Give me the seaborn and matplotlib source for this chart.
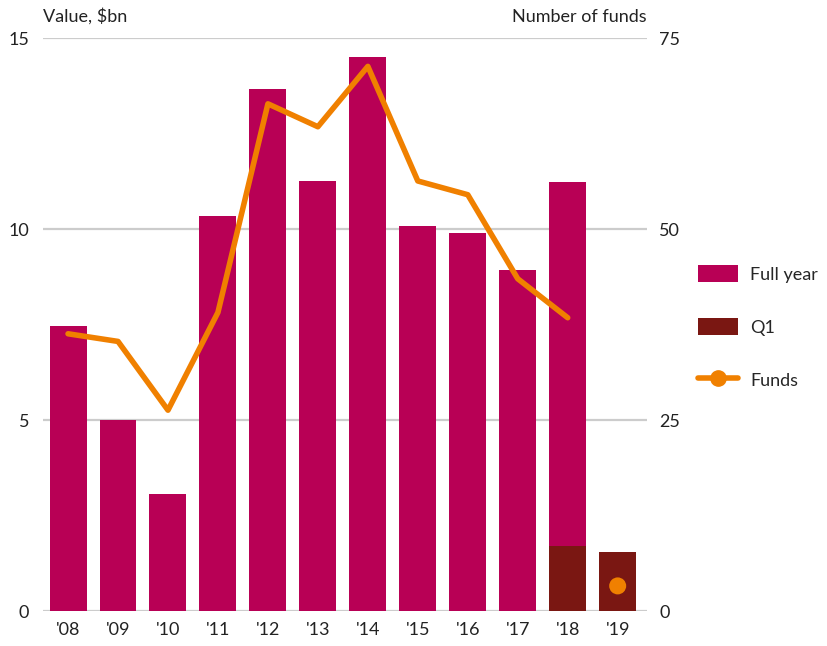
import seaborn as sns
import matplotlib.pyplot as plt
import numpy as np
import pandas as pd
from matplotlib.patches import Patch
from matplotlib.lines import Line2D

years = ["'08", "'09", "'10", "'11", "'12", "'13", "'14", "'15", "'16", "'17", "'18", "'19"]
full_year = [7.46, 5.0, 3.06, 10.34, 13.66, 11.26, 14.5, 10.08, 9.9, 8.93, 11.23, np.nan]
q1 = [np.nan] * 10 + [1.7, 1.54]
funds = [36.3, 35.3, 26.3, 39.1, 66.4, 63.4, 71.3, 56.3, 54.5, 43.5, 38.4, np.nan]
funds_q1 = [np.nan] * 11 + [3.3]

c_full = '#b80055'
c_q1 = '#7a1712'
c_line = '#f08000'
c_grid = '#cccccc'
c_text = '#222222'

sns.set_theme(style='white')
plt.rcParams['font.family'] = ['Lato', 'DejaVu Sans']

df = pd.DataFrame({'year': years, 'full': full_year, 'q1': q1})

fig = plt.figure(figsize=(8.28, 6.46), dpi=100)
ax = fig.add_axes([0.052, 0.054, 0.729, 0.887])

sns.barplot(data=df, x='year', y='full', order=years, color=c_full, width=0.74,
            saturation=1, linewidth=0, ax=ax)
sns.barplot(data=df, x='year', y='q1', order=years, color=c_q1, width=0.74,
            saturation=1, linewidth=0, ax=ax)

ax.set_ylim(0, 15)
ax.set_xlim(-0.5, 11.58)
ax.set_yticks([0, 5, 10, 15])
ax.yaxis.grid(True, color=c_grid, linewidth=1.6)
ax.set_axisbelow(True)
for s in ax.spines.values():
    s.set_visible(False)
ax.set_xlabel('')
ax.set_ylabel('')
ax.tick_params(axis='both', length=0, labelsize=13, colors=c_text)
ax.tick_params(axis='y', pad=10)
ax.tick_params(axis='x', pad=8)

ax2 = ax.twinx()
x = np.arange(len(years))
sns.lineplot(x=x, y=funds, color=c_line, linewidth=4, ax=ax2)
sns.scatterplot(x=x, y=funds_q1, color=c_line, s=150, edgecolor='none', ax=ax2, zorder=5)
ax2.set_ylim(0, 75)
ax2.set_yticks([0, 25, 50, 75])
for s in ax2.spines.values():
    s.set_visible(False)
ax2.tick_params(axis='y', length=0, labelsize=13, colors=c_text, pad=9)
ax2.set_ylabel('')

fig.text(0.052, 0.962, 'Value, $bn', fontsize=13, color=c_text, ha='left', va='bottom')
fig.text(0.781, 0.962, 'Number of funds', fontsize=13, color=c_text, ha='right', va='bottom')

handles = [Patch(facecolor=c_full, edgecolor='none'),
           Patch(facecolor=c_q1, edgecolor='none'),
           Line2D([0], [0], color=c_line, linewidth=4, marker='o', markersize=11)]
fig.legend(handles, ['Full year', 'Q1', 'Funds'], loc='center left',
           bbox_to_anchor=(0.843, 0.494), frameon=False, fontsize=13,
           labelspacing=1.95, handlelength=2.2, handleheight=1.1, handletextpad=0.7,
           borderpad=0, borderaxespad=0)

fig.savefig('out.png', dpi=100)
